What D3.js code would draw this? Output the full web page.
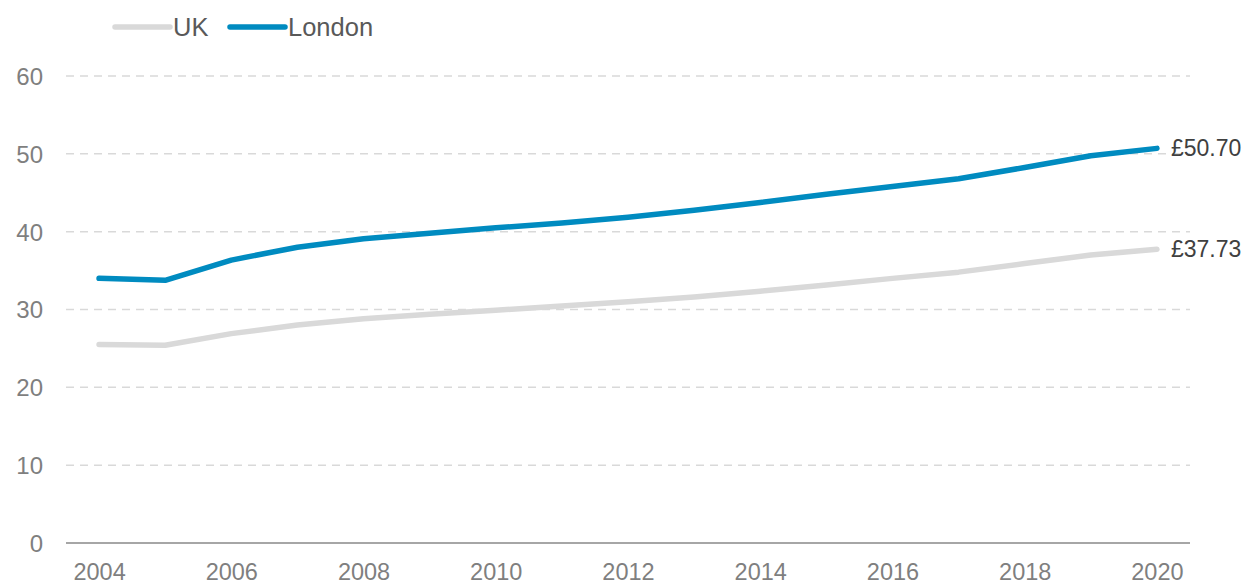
<!DOCTYPE html>
<html>
<head>
<meta charset="utf-8">
<script src="https://cdn.jsdelivr.net/npm/d3@7"></script>
<style>
  html, body { margin: 0; padding: 0; background: #ffffff; }
  svg { display: block; font-family: "Liberation Sans", Arial, sans-serif; }
</style>
</head>
<body>
<svg id="chart" width="1246" height="585"></svg>
<script>
// Years on the category axis
const years = [2004, 2005, 2006, 2007, 2008, 2009, 2010, 2011, 2012,
               2013, 2014, 2015, 2016, 2017, 2018, 2019, 2020];
// Hourly figures (£)
const ukValues = [25.5, 25.4, 26.9, 28.0, 28.8, 29.4, 29.9, 30.45, 31.0,
                  31.6, 32.35, 33.15, 34.0, 34.8, 35.9, 37.0, 37.73];
const londonValues = [34.0, 33.75, 36.35, 38.0, 39.1, 39.8, 40.5, 41.1, 41.85,
                      42.75, 43.75, 44.8, 45.8, 46.8, 48.25, 49.75, 50.70];
const yTicks = [0, 10, 20, 30, 40, 50, 60];
const xTickLabels = [2004, 2006, 2008, 2010, 2012, 2014, 2016, 2018, 2020];
const seriesNames = ["UK", "London"];
const endLabels = ["£37.73", "£50.70"];

const colors = { UK: "#d9d9d9", London: "#008bc0" };

const svg = d3.select("#chart");
const plot = { left: 66, right: 1190, top: 76, bottom: 543 };

const x = d3.scalePoint()
  .domain(years)
  .range([plot.left, plot.right])
  .padding(0.5);

const y = d3.scaleLinear()
  .domain([0, 60])
  .range([plot.bottom, plot.top]);

// Dashed horizontal gridlines
svg.append("g")
  .selectAll("line")
  .data(yTicks.filter(d => d > 0))
  .join("line")
  .attr("x1", plot.left)
  .attr("x2", plot.right)
  .attr("y1", d => y(d))
  .attr("y2", d => y(d))
  .attr("stroke", "#d9d9d9")
  .attr("stroke-width", 1.5)
  .attr("stroke-dasharray", "8,6");

// Y axis labels
const yAxis = d3.axisLeft(y).tickValues(yTicks).tickSize(0).tickPadding(0);
const gy = svg.append("g")
  .attr("transform", `translate(43,0)`)
  .call(yAxis);
gy.select(".domain").remove();
gy.selectAll("text")
  .attr("fill", "#7f7f7f")
  .attr("font-size", 24)
  .attr("font-family", "Liberation Sans, Arial, sans-serif")
  .attr("dy", "0.35em");

// X axis baseline and year labels
const xAxis = d3.axisBottom(x).tickValues(xTickLabels).tickSize(0).tickPadding(0);
const gx = svg.append("g")
  .attr("transform", `translate(0,${plot.bottom})`)
  .call(xAxis);
gx.select(".domain")
  .attr("d", `M${plot.left},0H${plot.right}`)
  .attr("stroke", "#898989")
  .attr("stroke-width", 1.5);
gx.selectAll("text")
  .attr("fill", "#7f7f7f")
  .attr("font-size", 23.5)
  .attr("font-family", "Liberation Sans, Arial, sans-serif")
  .attr("dy", null)
  .attr("y", 37);

// Series lines
const series = [
  { name: "UK", values: ukValues, label: endLabels[0] },
  { name: "London", values: londonValues, label: endLabels[1] }
];

const line = d3.line()
  .x((d, i) => x(years[i]))
  .y(d => y(d));

svg.append("g")
  .selectAll("path")
  .data(series)
  .join("path")
  .attr("d", s => line(s.values))
  .attr("fill", "none")
  .attr("stroke", s => colors[s.name])
  .attr("stroke-width", 5.5)
  .attr("stroke-linecap", "round")
  .attr("stroke-linejoin", "round");

// End-of-line value labels
svg.append("g")
  .selectAll("text")
  .data(series)
  .join("text")
  .attr("x", x(years[years.length - 1]) + 14)
  .attr("y", s => y(s.values[s.values.length - 1]))
  .attr("dy", "0.35em")
  .attr("fill", "#404040")
  .attr("font-size", 23)
  .text(s => s.label);

// Legend
const legendItems = [
  { name: seriesNames[0], x1: 115, x2: 170, tx: 173 },
  { name: seriesNames[1], x1: 230, x2: 285, tx: 288 }
];
const legend = svg.append("g");
legend.selectAll("line")
  .data(legendItems)
  .join("line")
  .attr("x1", d => d.x1)
  .attr("x2", d => d.x2)
  .attr("y1", 27)
  .attr("y2", 27)
  .attr("stroke", d => colors[d.name])
  .attr("stroke-width", 5.5)
  .attr("stroke-linecap", "round");
legend.selectAll("text")
  .data(legendItems)
  .join("text")
  .attr("x", d => d.tx)
  .attr("y", 27)
  .attr("dy", "0.36em")
  .attr("fill", "#595959")
  .attr("font-size", 25.5)
  .text(d => d.name);
</script>
</body>
</html>
